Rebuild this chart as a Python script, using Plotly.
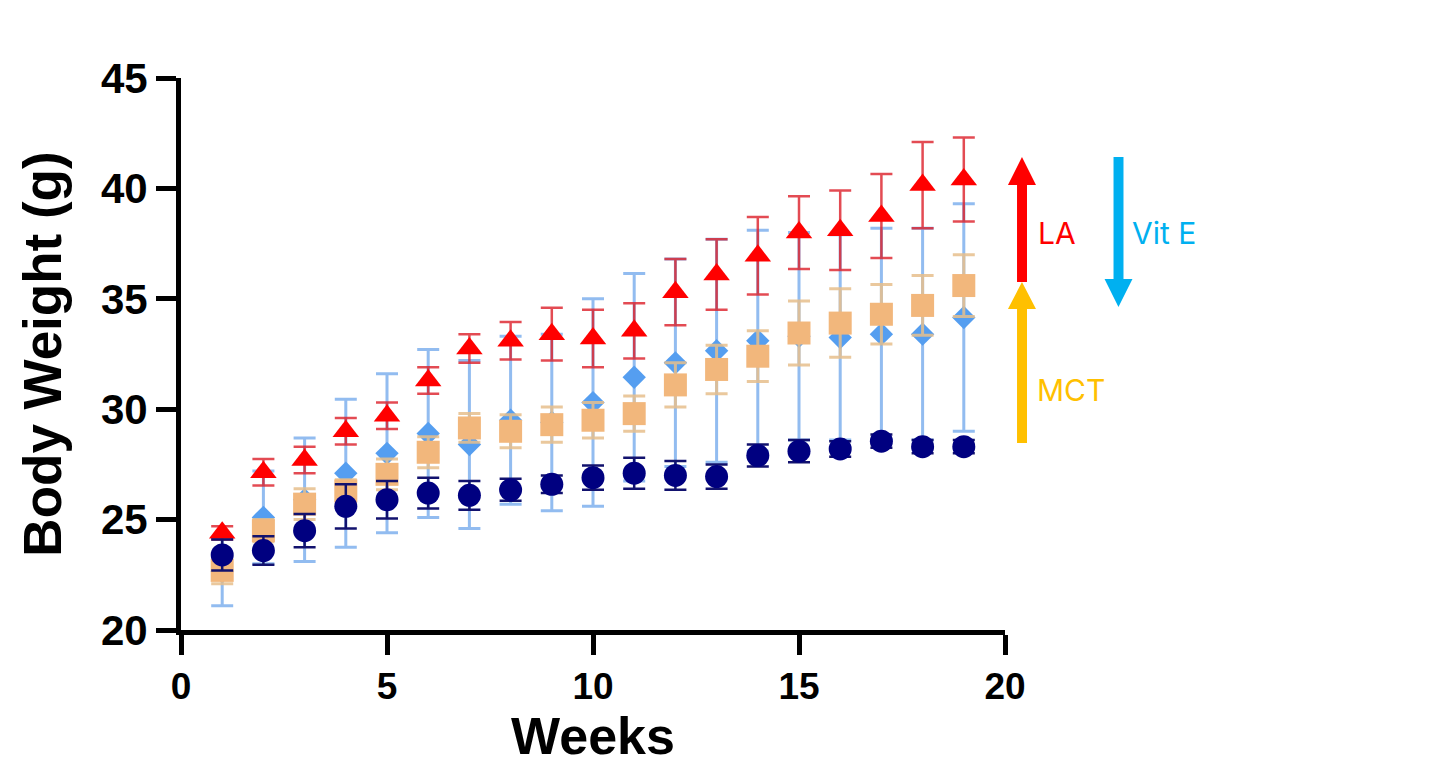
import plotly.graph_objects as go

# body weight (g) per week, mean and error
weeks = list(range(1, 20))

control_mean = [23.4, 23.6, 24.5, 25.6, 25.9, 26.2, 26.1, 26.35, 26.6, 26.9,
                27.1, 27.0, 26.95, 27.9, 28.1, 28.2, 28.55, 28.3, 28.3]
control_err = [0.7, 0.65, 0.75, 1.0, 0.85, 0.7, 0.65, 0.5, 0.4, 0.55,
               0.7, 0.65, 0.55, 0.5, 0.5, 0.35, 0.3, 0.3, 0.3]

vite_mean = [22.65, 25.1, 25.9, 27.1, 28.0, 28.9, 28.4, 29.5, 29.4, 30.3,
             31.45, 32.1, 32.65, 33.1, 33.3, 33.25, 33.4, 33.4, 34.15]
vite_err = [1.55, 2.1, 2.8, 3.35, 3.6, 3.8, 3.8, 3.8, 4.0, 4.7,
            4.7, 4.7, 5.05, 5.0, 4.7, 4.65, 4.8, 4.8, 5.15]

mct_mean = [22.7, 24.5, 25.7, 26.3, 27.05, 28.05, 29.15, 29.0, 29.3, 29.5,
            29.8, 31.1, 31.8, 32.4, 33.45, 33.9, 34.3, 34.7, 35.6]
mct_err = [0.6, 0.5, 0.7, 0.5, 0.7, 0.7, 0.65, 0.75, 0.8, 0.8,
           0.8, 1.0, 1.1, 1.15, 1.45, 1.55, 1.35, 1.35, 1.4]

la_mean = [24.4, 27.15, 27.7, 29.0, 29.7, 31.3, 32.75, 33.1, 33.4, 33.2,
           33.55, 35.3, 36.1, 36.95, 38.0, 38.1, 38.75, 40.15, 40.4]
la_err = [0.3, 0.6, 0.6, 0.6, 0.6, 0.6, 0.65, 0.85, 1.2, 1.3,
          1.25, 1.5, 1.6, 1.75, 1.65, 1.8, 1.9, 1.95, 1.9]

W, H = 1456, 772
OFF = 8  # page body margin shifts the whole figure
L, R, T, B = 181 - OFF, 451 + OFF, 78 - OFF, 142 + OFF

FONT = "Liberation Sans, Arial, sans-serif"


def to_paper(x, y):
    # page pixel -> paper coords
    return (x - OFF - L) / (W - L - R), (H - B - (y - OFF)) / (H - T - B)


def arrow_path(xc, y_tail, y_tip, shaft=10, head=28, head_len=28):
    d = 1 if y_tip < y_tail else -1
    y_base = y_tip + d * head_len
    pts = [(xc - shaft / 2, y_tail), (xc - shaft / 2, y_base), (xc - head / 2, y_base),
           (xc, y_tip), (xc + head / 2, y_base), (xc + shaft / 2, y_base),
           (xc + shaft / 2, y_tail)]
    pp = [to_paper(x, y) for x, y in pts]
    return "M " + " L ".join(f"{x:.4f},{y:.4f}" for x, y in pp) + " Z"


def series(mean, err, name, symbol, size, color, ecolor, ethick):
    return go.Scatter(
        x=weeks, y=mean, name=name, mode="markers",
        marker=dict(symbol=symbol, size=size, color=color, line=dict(width=0)),
        error_y=dict(type="data", array=err, visible=True, color=ecolor,
                     thickness=ethick, width=11),
    )


data = [
    series(vite_mean, vite_err, "Vit E", "diamond", 18, "#559EF0", "rgba(110,165,235,0.75)", 3),
    series(mct_mean, mct_err, "MCT", "square", 23, "#F2B77C", "rgba(230,190,140,0.85)", 3),
    series(la_mean, la_err, "LA", "triangle-up", 23, "#FF0000", "rgba(220,30,40,0.8)", 2.5),
    series(control_mean, control_err, "Control", "circle", 23, "#000080", "#12126e", 2.5),
]

axis_common = dict(
    showgrid=False, zeroline=False, showline=True, linecolor="black", linewidth=5,
    ticks="outside", ticklen=20, tickwidth=5, tickcolor="black", automargin=False,
)

label_font = "Inter, Noto Sans, sans-serif"

layout = go.Layout(
    width=W, height=H, template="none",
    margin=dict(l=L, r=R, t=T, b=B),
    paper_bgcolor="white", plot_bgcolor="white", showlegend=False,
    xaxis=dict(range=[0, 20], tickvals=[0, 5, 10, 15, 20],
               tickfont=dict(family=FONT, size=37, color="black", weight="bold"),
               title=dict(text="Weeks", standoff=12,
                          font=dict(family=FONT, size=52, color="black", weight="bold")),
               **axis_common),
    yaxis=dict(range=[20, 45], tickvals=[20, 25, 30, 35, 40, 45],
               tickfont=dict(family=FONT, size=42, color="black", weight="bold"),
               title=dict(text="Body Weight (g)", standoff=24,
                          font=dict(family=FONT, size=53, color="black", weight="bold")),
               **axis_common),
    shapes=[
        dict(type="path", xref="paper", yref="paper", path=arrow_path(1022, 282, 157),
             fillcolor="#FF0000", line=dict(width=0)),
        dict(type="path", xref="paper", yref="paper", path=arrow_path(1022, 443, 282, head_len=27),
             fillcolor="#FFC000", line=dict(width=0)),
        dict(type="path", xref="paper", yref="paper", path=arrow_path(1118.5, 157, 307),
             fillcolor="#00B0F0", line=dict(width=0)),
    ],
    annotations=[
        dict(text="LA", xref="paper", yref="paper", x=to_paper(1036, 0)[0], y=to_paper(0, 233)[1],
             xanchor="left", yanchor="middle", showarrow=False,
             font=dict(family=label_font, size=30, color="#FF0000")),
        dict(text="Vit E", xref="paper", yref="paper", x=to_paper(1130, 0)[0], y=to_paper(0, 233)[1],
             xanchor="left", yanchor="middle", showarrow=False,
             font=dict(family=label_font, size=30, color="#00B0F0")),
        dict(text="MCT", xref="paper", yref="paper", x=to_paper(1035, 0)[0], y=to_paper(0, 390)[1],
             xanchor="left", yanchor="middle", showarrow=False,
             font=dict(family=label_font, size=30, color="#FFC000")),
    ],
)

fig = go.Figure(data=data, layout=layout)
fig.write_html("out.html")
